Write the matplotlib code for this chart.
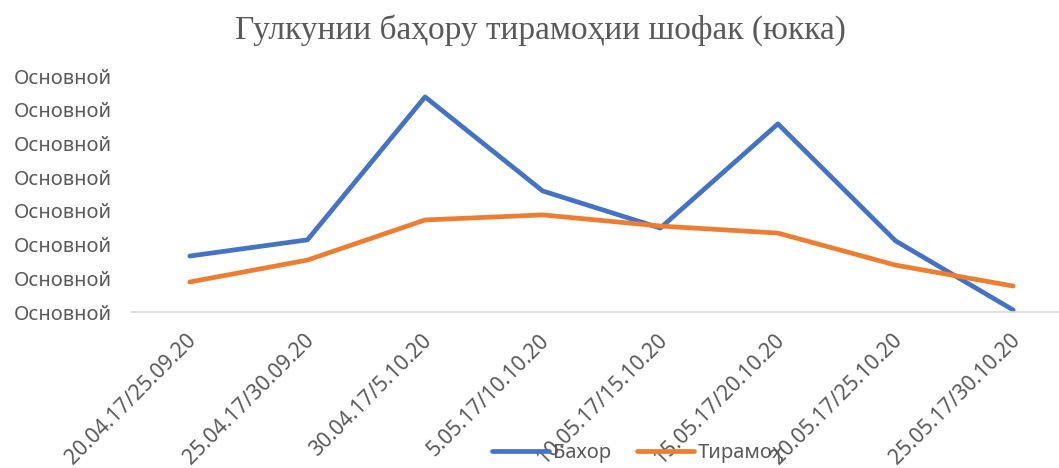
import matplotlib
matplotlib.use('Agg')
import matplotlib.pyplot as plt
import matplotlib.transforms as mtransforms

# categories (spring date / autumn date)
dates = ['20.04.17/25.09.20', '25.04.17/30.09.20', '30.04.17/5.10.20', '5.05.17/10.10.20',
         '10.05.17/15.10.20', '15.05.17/20.10.20', '20.05.17/25.10.20', '25.05.17/30.10.20']
bahor = [1.66, 2.14, 6.38, 3.59, 2.49, 5.58, 2.11, 0.06]
tiramoh = [0.89, 1.54, 2.73, 2.88, 2.55, 2.34, 1.39, 0.77]
ytick_labels = ['Основной'] * 8

grey = '#595959'
plt.rcParams['font.family'] = ['Noto Sans', 'DejaVu Sans']

fig = plt.figure(figsize=(10.59, 4.68), dpi=100)
ax = fig.add_axes([131/1059, 1-312/468, 941/1059, (312-76)/468])

x = list(range(len(dates)))
ax.plot(x, bahor, color='#4472C4', lw=3.4, label='Бахор', solid_capstyle='round')
ax.plot(x, tiramoh, color='#ED7D31', lw=3.4, label='Тирамоҳ', solid_capstyle='round')

ax.set_xlim(-0.5, len(dates) - 0.5)
ax.set_ylim(0, 7)
ax.set_yticks(range(8))
ax.set_yticklabels(ytick_labels, fontsize=14.5, color=grey)
ax.set_xticks(x)
ax.set_xticklabels(dates, rotation=45, ha='right', rotation_mode='anchor', fontsize=15.2, color=grey)
ax.tick_params(axis='x', length=0, pad=13)
ax.tick_params(axis='y', length=0, pad=14)
shift = mtransforms.ScaledTranslation(-4/100, 0, fig.dpi_scale_trans)
for lab in ax.get_xticklabels():
    lab.set_transform(lab.get_transform() + shift)
for s in ['top', 'right', 'left']:
    ax.spines[s].set_visible(False)
ax.spines['bottom'].set_color('#D9D9D9')
ax.spines['bottom'].set_linewidth(1.2)

fig.text(540/1059, 1-30/468, 'Гулкунии баҳору тирамоҳии шофак (юкка)', family='Liberation Serif',
         fontsize=24, color=grey, ha='center', va='center')

fig.legend(loc='center', bbox_to_anchor=(638/1059, 1-453/468), ncol=2, frameon=False,
           fontsize=14.5, labelcolor=grey, handlelength=2.8, columnspacing=1.3, handletextpad=0.2)

fig.savefig('out.png', dpi=100)
